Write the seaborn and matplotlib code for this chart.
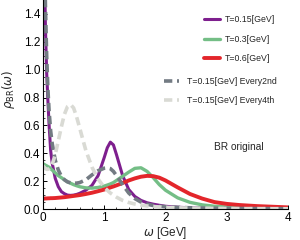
import matplotlib
matplotlib.use("Agg")
import matplotlib.pyplot as plt
import seaborn as sns
from matplotlib.ticker import MultipleLocator

# omega grid [GeV] and spectral functions
omega = [0.0, 0.02, 0.04, 0.06, 0.08, 0.1, 0.125, 0.15, 0.2, 0.25, 0.3, 0.35, 0.4,
         0.45, 0.5, 0.55, 0.6, 0.7, 0.8, 0.9, 1.0, 1.05, 1.1, 1.15, 1.2, 1.3, 1.4,
         1.5, 1.6, 1.7, 1.8, 1.9, 2.0, 2.2, 2.4, 2.6, 2.8, 3.0, 3.2, 3.5, 4.0]

rho_t015 = [5.0, 1.9, 1.3, 0.98, 0.78, 0.6, 0.42, 0.33, 0.22, 0.16, 0.125, 0.11, 0.10,
            0.098, 0.10, 0.105, 0.113, 0.135, 0.17, 0.24, 0.37, 0.44, 0.48, 0.46, 0.39,
            0.24, 0.14, 0.09, 0.062, 0.045, 0.035, 0.027, 0.02, 0.013, 0.009, 0.007,
            0.005, 0.004, 0.003, 0.002, 0.001]

rho_t03 = [0.325, 0.32, 0.315, 0.31, 0.305, 0.30, 0.29, 0.28, 0.26, 0.24, 0.225, 0.21,
           0.195, 0.185, 0.175, 0.167, 0.16, 0.152, 0.15, 0.155, 0.165, 0.172, 0.18,
           0.19, 0.205, 0.235, 0.265, 0.292, 0.296, 0.27, 0.225, 0.175, 0.135, 0.08,
           0.048, 0.03, 0.02, 0.015, 0.012, 0.01, 0.007]

rho_t06 = [0.075, 0.075, 0.076, 0.076, 0.077, 0.077, 0.078, 0.078, 0.079, 0.081, 0.083,
           0.085, 0.088, 0.091, 0.094, 0.097, 0.10, 0.108, 0.117, 0.128, 0.14, 0.147,
           0.155, 0.162, 0.17, 0.187, 0.205, 0.22, 0.232, 0.238, 0.236, 0.225, 0.205,
           0.155, 0.108, 0.075, 0.05, 0.037, 0.029, 0.021, 0.012]

rho_every2 = [5.0, 2.0, 1.45, 1.1, 0.86, 0.7, 0.56, 0.47, 0.35, 0.28, 0.235, 0.21, 0.195,
              0.188, 0.185, 0.186, 0.19, 0.21, 0.245, 0.275, 0.293, 0.296, 0.29, 0.27,
              0.24, 0.175, 0.115, 0.075, 0.05, 0.035, 0.025, 0.02, 0.016, 0.012, 0.009,
              0.007, 0.006, 0.005, 0.004, 0.003, 0.002]

rho_every4 = [0.31, 0.30, 0.29, 0.285, 0.285, 0.29, 0.30, 0.32, 0.39, 0.49, 0.59, 0.68,
              0.735, 0.75, 0.725, 0.66, 0.58, 0.42, 0.30, 0.215, 0.155, 0.135, 0.115,
              0.10, 0.085, 0.062, 0.047, 0.036, 0.028, 0.022, 0.018, 0.015, 0.012,
              0.009, 0.007, 0.006, 0.005, 0.004, 0.003, 0.003, 0.002]

labels = ["T=0.15[GeV]", "T=0.3[GeV]", "T=0.6[GeV]",
          "T=0.15[GeV] Every2nd", "T=0.15[GeV] Every4th"]
colors = ["#7e1f8e", "#74be86", "#e3262b", "#737b83", "#d9dad4"]

sns.set_theme(style="ticks")
plt.rcParams["font.family"] = ["Liberation Sans", "DejaVu Sans"]
plt.rcParams["mathtext.fontset"] = "dejavusans"

fig = plt.figure(figsize=(3.0, 2.4), dpi=100)
ax = fig.add_axes([0.1433, 0.129, 0.8167, 0.871])

dash = (0, (2.3, 1.3))
sns.lineplot(x=omega, y=rho_t015, ax=ax, color=colors[0], lw=2.2, label=labels[0], sort=False)
sns.lineplot(x=omega, y=rho_t03, ax=ax, color=colors[1], lw=2.4, label=labels[1], sort=False)
sns.lineplot(x=omega, y=rho_t06, ax=ax, color=colors[2], lw=2.8, label=labels[2], sort=False)
sns.lineplot(x=omega, y=rho_every2, ax=ax, color=colors[3], lw=2.6, linestyle=dash,
             label=labels[3], sort=False)
sns.lineplot(x=omega, y=rho_every4, ax=ax, color=colors[4], lw=2.6, linestyle=dash,
             label=labels[4], sort=False)

ax.set_xlim(0, 4)
ax.set_ylim(0, 1.5)
ax.xaxis.set_minor_locator(MultipleLocator(0.2))
ax.yaxis.set_minor_locator(MultipleLocator(0.05))
ax.set_xticks([0, 1, 2, 3, 4])
ax.set_xticklabels(["0", "1", "2", "3", "4"])
ax.set_yticks([0.0, 0.2, 0.4, 0.6, 0.8, 1.0, 1.2, 1.4])
ax.set_yticklabels(["0.0", "0.2", "0.4", "0.6", "0.8", "1.0", "1.2", "1.4"])
ax.tick_params(which="major", direction="in", length=3, width=0.7, labelsize=8.5, pad=2,
               colors="black")
ax.tick_params(which="minor", direction="in", length=1.5, width=0.6)
for s in ["top", "right"]:
    ax.spines[s].set_visible(False)
for s in ["left", "bottom"]:
    ax.spines[s].set_linewidth(0.8)
    ax.spines[s].set_color("black")

ax.set_xlabel(r"$\omega$ [GeV]", fontsize=8.5, labelpad=1)
ax.set_ylabel(r"$\rho_{\rm BR}(\omega)$", fontsize=8.5, labelpad=1)
ax.yaxis.set_label_coords(-0.105, 0.57)

ax.text(3.2, 0.445, "BR original", fontsize=7.3, ha="center", va="center")

handles, lbls = ax.get_legend_handles_labels()
leg1 = ax.legend(handles[:3], lbls[:3], loc="upper right", bbox_to_anchor=(0.917, 0.937),
                 bbox_transform=fig.transFigure, frameon=False, fontsize=6.3,
                 handlelength=1.8, handletextpad=0.6, labelspacing=1.2,
                 borderpad=0, borderaxespad=0)
ax.add_artist(leg1)
ax.legend(handles[3:], lbls[3:], loc="upper right", bbox_to_anchor=(0.924, 0.68),
          bbox_transform=fig.transFigure, frameon=False, fontsize=6.3,
          handlelength=1.7, handletextpad=1.0, labelspacing=1.2,
          borderpad=0, borderaxespad=0)

fig.savefig("out.png", dpi=100)
